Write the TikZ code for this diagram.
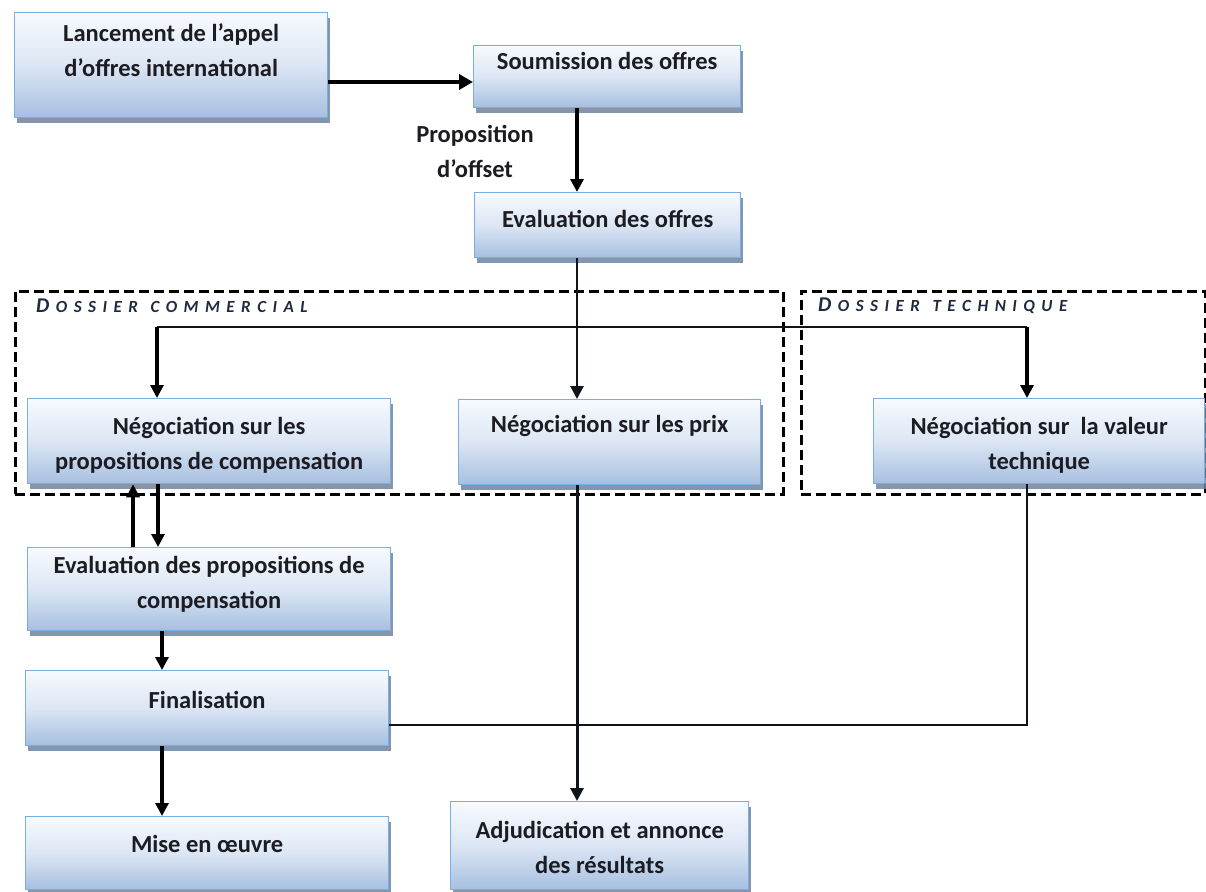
\documentclass[tikz,border=0pt]{standalone}
\usepackage{fontspec}
\setmainfont{Carlito}
\usetikzlibrary{arrows.meta,shadows,calc}

\definecolor{boxedge}{RGB}{120,175,225}
\definecolor{boxtop}{RGB}{247,250,254}
\definecolor{boxmid}{RGB}{220,230,244}
\definecolor{boxbot}{RGB}{166,191,224}
\definecolor{boxshadow}{RGB}{112,130,158}
\definecolor{ink}{RGB}{28,28,34}
\definecolor{linkcol}{RGB}{15,20,26}
\definecolor{tagink}{RGB}{30,42,66}

\tikzset{
  stage/.style={rectangle, anchor=north west, inner sep=0pt,
    draw=boxedge, line width=1.3pt,
    top color=boxtop, bottom color=boxbot, middle color=boxmid,
    drop shadow={shadow xshift=2pt, shadow yshift=-5pt, fill=boxshadow, opacity=0.85}},
  caption/.style={font=\fontsize{24.5}{35}\selectfont\bfseries, text=ink, align=center, inner sep=0pt},
  tip/.style={-{Triangle[length=13pt,width=13pt]}},
  flow/.style={draw=black, line width=3.2pt, tip},
  link/.style={draw=linkcol, line width=2.8pt},
  group/.style={rectangle, anchor=north west, inner sep=0pt, draw=black, line width=2.6pt,
    dash pattern=on 10pt off 5pt},
  tag/.style={text=tagink, anchor=west, inner sep=0pt, font=\bfseries\itshape}
}

% letter-spaced small capitals for the group titles
\makeatletter
\newcommand\spreadword[1]{\@tfor\ch:=#1\do{\ch\kern6.5pt}}
\makeatother
\newcommand\tagbig[1]{{\fontsize{21}{22}\selectfont #1}\kern6.5pt}
\newcommand\tagsmall[1]{{\fontsize{17}{22}\selectfont\spreadword{#1}}}

\begin{document}
\begin{tikzpicture}[x=1pt,y=-1pt]
\useasboundingbox (0,0) rectangle (1206,891);

% dossier groups
\node[group, minimum width=768pt, minimum height=203pt] (com) at (14,290) {};
\node[group, minimum width=404pt, minimum height=203pt] (tech) at (800,290) {};
\node[tag] (comT) at (36,306) {\tagbig{D}\tagsmall{OSSIER}\hspace{6pt}\tagsmall{COMMERCIAL}};
\node[tag] (techT) at (818,306) {\tagbig{D}\tagsmall{OSSIER}\hspace{6pt}\tagsmall{TECHNIQUE}};

% process stages
\node[stage, minimum width=313pt, minimum height=105pt] (lanc) at (14,12) {};
\node[stage, minimum width=267pt, minimum height=62pt] (soum) at (473,45) {};
\node[stage, minimum width=266pt, minimum height=65pt] (evalo) at (474,192) {};
\node[stage, minimum width=363pt, minimum height=85pt] (negc) at (27,398) {};
\node[stage, minimum width=302pt, minimum height=85pt] (negp) at (458,399) {};
\node[stage, minimum width=331pt, minimum height=85pt] (negt) at (873,398) {};
\node[stage, minimum width=363pt, minimum height=83pt] (evalc) at (27,547) {};
\node[stage, minimum width=363pt, minimum height=75pt] (fin) at (25,670) {};
\node[stage, minimum width=363pt, minimum height=73pt] (mise) at (25,816) {};
\node[stage, minimum width=298pt, minimum height=88pt] (adj) at (450,801) {};

% stage captions
\node[caption] (lancT) at ([yshift=15pt]lanc.center) {Lancement de l’appel\\d’offres international};
\node[caption] (soumT) at ([yshift=16pt]soum.center) {Soumission des offres};
\node[caption] (evaloT) at ([yshift=6pt]evalo.center) {Evaluation des offres};
\node[caption] (negcT) at ([yshift=-4pt]negc.center) {Négociation sur les\\propositions de compensation};
\node[caption] (negpT) at ([yshift=16pt]negp.center) {Négociation sur les prix};
\node[caption] (negtT) at ([yshift=-4pt]negt.center) {Négociation sur\ \ la valeur\\technique};
\node[caption] (evalcT) at ([yshift=5pt]evalc.center) {Evaluation des propositions de\\compensation};
\node[caption] (finT) at ([yshift=8pt]fin.center) {Finalisation};
\node[caption] (miseT) at ([yshift=9pt]mise.center) {Mise en œuvre};
\node[caption] (adjT) at ([yshift=-2pt]adj.center) {Adjudication et annonce\\des résultats};
\node[caption] (offset) at (475,151) {Proposition\\d’offset};

% connector guides
\coordinate (vx) at (577,0);
\coordinate (ly) at (0,82);
\coordinate (jl) at (157,327);
\coordinate (jr) at (1027,327);
\coordinate (ux) at (133,0);
\coordinate (dx) at (158,0);
\coordinate (sx) at (162,0);
\coordinate (fy) at (0,725);

% connectors
\draw[flow, line width=4.5pt, -{Triangle[length=14pt,width=15pt]}] (lanc.east |- ly) -- (soum.west |- ly);
\draw[flow] (soum.south -| vx) -- (evalo.north -| vx);
\draw[link, tip] (evalo.south -| vx) -- (negp.north -| vx);
\draw[link] (jl) -- (jr);
\draw[flow] (jl) -- (negc.north -| jl);
\draw[flow] (jr) -- (negt.north -| jr);
\draw[flow] (evalc.north -| ux) -- (negc.south -| ux);
\draw[flow] (negc.south -| dx) -- (evalc.north -| dx);
\draw[flow] (evalc.south -| sx) -- (fin.north -| sx);
\draw[flow] (fin.south -| sx) -- (mise.north -| sx);
\draw[link, line width=3pt, tip] (negp.south -| vx) -- (adj.north -| vx);
\draw[link] (fin.east |- fy) -| (negt.south -| jr);
\end{tikzpicture}
\end{document}
